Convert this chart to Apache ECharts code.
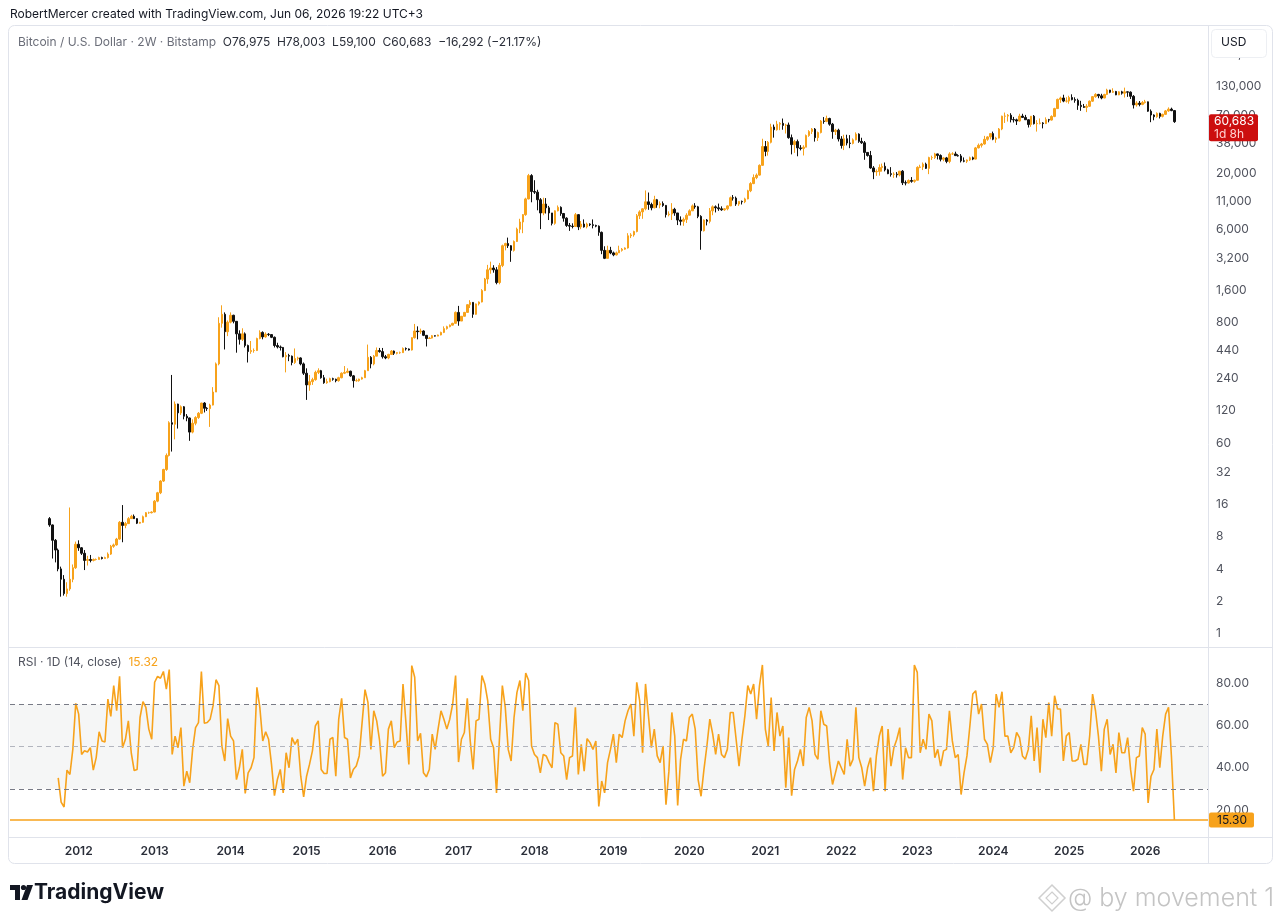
<!DOCTYPE html>
<html><head><meta charset="utf-8">
<script src="https://cdn.jsdelivr.net/npm/echarts@6/dist/echarts.min.js"></script>
<style>html,body{margin:0;padding:0;background:#fff;}#c{width:1280px;height:922px;}</style>
</head><body><div id="c"></div>
<script>
// ---------------- DATA ----------------
const firstBarDate = [2011, 7, 22];   // first 2W bar (UTC), Aug 22 2011
const firstOpen = 11.8;
const closes = [
10.3,7.4,6.0,4.0,3.2,2.35,2.6,3.2,4.1,6.8,
6.3,5.6,4.8,4.9,4.8,4.9,4.9,5.1,5.0,5.1,
5.5,6.5,6.7,7.6,10.9,10.2,10.6,11.8,12.4,11.8,
10.7,10.9,12.3,13.4,13.4,13.6,17.2,20.6,26.5,34,
46,93,90,139,115,131,107,103,76,92,
104,114,142,127,126,136,180,330,790,960,
660,810,940,825,630,560,630,490,430,440,
440,570,650,590,625,620,585,490,475,470,
385,395,390,340,370,375,330,270,210,225,
235,275,285,245,220,225,240,237,230,245,
270,275,282,255,230,230,238,245,285,380,
330,390,440,430,385,375,405,435,415,420,
420,460,455,445,580,670,660,670,610,570,
575,605,600,615,650,705,735,760,790,1000,
830,920,1000,1180,1240,960,1200,1250,1600,2050,
2500,2600,2500,1900,2750,4200,4400,4200,3800,4600,
6000,7000,8200,11500,19000,13500,13300,11300,8500,10300,
9500,8500,6800,8900,9600,8400,7600,6500,6400,6350,
8200,6300,6700,6300,6700,6600,6500,6400,5600,3800,
3200,3800,3600,3450,3600,3800,3900,4000,5200,5300,
5700,8000,8700,9300,10800,10200,9500,11300,10100,10400,
10000,8200,8300,9200,8500,7300,7100,7400,8100,8900,
9900,9700,7900,5800,7300,7100,8900,9700,9500,9300,
9100,9300,9900,11800,11700,10300,10900,10800,11500,13700,
16000,18200,19200,23700,35500,32000,38900,54000,51000,57500,
58500,56000,56500,43000,37000,39500,34500,34000,35000,45000,
49000,51700,43000,48000,61500,61000,65000,57500,49000,50500,
41800,36300,42000,38300,38000,41000,46400,39700,38500,31300,
29300,22400,20600,20800,22600,23200,21500,19800,19500,19600,
19300,20900,16300,16200,17100,16800,17200,22700,22900,24300,
22200,28000,28000,30300,29300,27000,27800,25800,30300,30300,
29200,29000,26100,25900,26600,27900,27100,34500,36500,37500,
41500,43700,46900,41600,42600,51800,68300,68400,69700,63400,
63100,61500,68400,66500,63200,57000,68200,58100,58500,59000,
58200,63300,62800,67900,80400,98000,101000,94500,94500,102000,
97500,96000,86200,84000,82500,84500,94300,104000,109000,105700,
101000,109000,119800,114200,116200,108000,115300,112000,115200,114500,
104700,87000,90400,88000,91500,93000,76000,70000,67500,72500,
68000,71000,76500,79500,76975,60683
];
const highs = [
12.2,10.4,7.6,6.2,4.2,3.5,3.0,15.0,4.4,7.2,
7.4,6.4,6.0,5.3,5.4,5.0,5.0,5.2,5.2,5.2,
5.7,6.7,6.9,7.8,11.2,15.8,11.0,12.2,12.8,12.9,
11.9,11.0,12.6,13.6,13.7,13.8,17.6,21.0,27.0,34.5,
48,96,260,147,140,135,133,112,104,100,
107,117,143,145,130,140,200,340,900,1165,
1000,840,1000,950,830,680,710,650,500,540,
460,580,680,665,650,640,625,595,520,490,
475,425,410,395,460,385,380,340,300,260,
245,285,300,290,260,240,245,245,240,250,
275,315,300,285,260,240,240,250,290,500,
390,400,470,465,465,400,410,445,440,425,
430,470,470,460,585,780,740,705,680,615,
590,615,610,620,660,740,750,770,800,1020,
1150,925,1010,1190,1300,1250,1210,1265,1650,2100,
2780,2980,2760,2650,2900,4300,4480,5000,4250,4700,
6200,7500,8300,11800,19700,19600,17200,14000,11700,11800,
11700,9900,8500,9000,9990,9800,8500,7750,6850,6800,
8500,8300,7150,7400,6900,6800,7400,6600,6500,5700,
4150,4200,4100,3700,3700,4200,4000,4050,5500,5500,
5800,8300,9000,9400,13800,13200,10600,12300,11500,10900,
10900,10100,8800,10500,9500,8500,7900,7700,8450,9200,
10200,10500,9900,8100,7400,7450,9450,10000,10000,10400,
9800,9450,10000,12100,12500,12100,11000,11100,11800,14000,
16500,19500,19900,24200,42000,40000,40000,58000,57000,61800,
60000,64900,58000,59500,46000,41000,41300,36600,36500,46000,
50500,52900,52900,49000,62900,67000,69000,66000,59000,52000,
52100,44400,45800,45800,45400,42300,48200,47200,42900,40000,
31400,32300,23300,21700,24200,24600,25200,22000,22800,20400,
20500,21000,21400,17100,17500,18400,17400,23200,24000,25200,
25100,28500,29200,31000,30500,30000,28400,28400,31400,31400,
31800,30100,30200,28100,26900,28600,28600,35200,37900,38400,
44700,44300,47200,49000,43800,52900,69000,73800,71500,72800,
67200,64700,71900,71900,70200,63800,68500,70000,62700,65000,
60000,66500,64400,69500,81800,99600,104000,108300,102700,106000,
109300,102500,99500,95000,88800,88500,95800,105000,112000,110400,
110500,110500,123200,120200,124500,117600,116800,117900,126200,116000,
116400,107500,94200,94600,94500,97000,93500,79000,71000,74000,
73500,72000,78000,82500,82000,78003
];
const lows = [
9.9,5.0,4.6,3.8,2.2,2.25,2.2,2.5,3.0,4.0,
5.9,5.4,3.9,4.3,4.6,4.7,4.8,4.9,4.9,5.0,
5.0,5.4,6.3,6.6,7.5,7.1,9.6,10.5,11.8,11.7,
10.5,10.6,10.8,12.2,13.1,13.2,13.5,16.8,20.0,26.0,
33,45,50,65,82,110,100,96,63,74,
88,101,112,116,120,85,135,180,320,720,
450,600,790,790,420,500,540,470,340,410,
420,435,560,560,580,600,575,470,460,440,
380,275,350,320,330,355,320,260,152,185,
210,230,265,240,215,215,222,230,222,225,
242,265,270,250,198,225,225,235,244,285,
300,320,390,420,370,365,365,400,400,405,
410,418,440,440,440,570,560,630,600,480,
565,570,595,598,610,640,690,725,755,785,
750,830,915,990,1100,890,950,1160,1240,1580,
1850,2300,2350,1830,1830,2650,3800,4000,2970,3700,
4550,5500,5500,8000,11400,10700,12800,9000,6000,8100,
8400,7300,6500,6600,8800,8000,7050,6300,5780,6100,
6300,5880,6000,6200,6100,6400,6100,6250,5200,3500,
3150,3200,3500,3350,3400,3600,3700,3850,3950,4950,
5100,5600,7450,7500,9000,9100,9000,9400,9500,9400,
9700,7700,7900,7300,8000,6550,6500,6450,6850,8100,
8950,9300,7600,3850,5700,6500,6800,8100,8600,8900,
8900,8900,9000,9850,11100,9900,9900,10200,10500,11400,
13300,15800,17600,19000,23500,28800,29200,38000,43000,50000,
50500,51000,47000,42000,30000,31000,28800,32700,29300,35000,
43800,46500,39500,40000,47100,58000,60000,55600,42000,45500,
39600,34000,32900,36400,34300,37200,40600,38500,37600,26700,
28600,22000,17600,18900,19000,20700,20800,19600,18600,18100,
18200,18700,15500,15400,16000,16300,16300,17100,22300,21400,
21900,19600,26600,27200,26900,25800,25900,24800,24800,29600,
29000,28600,25200,25300,24900,26000,26500,26900,34100,34800,
37000,40200,41500,40700,38500,42300,50500,59000,60800,59700,
59600,56500,60700,66000,63000,53500,54300,57100,49000,57200,
52500,57600,59800,62100,66800,80000,90800,92200,91500,89300,
96000,91200,78200,76600,81600,74500,83200,92800,101500,100400,
98200,100400,107500,111900,112600,107300,107300,108600,102000,103500,
98900,80500,83800,84400,86500,89500,75000,60000,62500,66000,
65000,66500,70000,75000,76000,59100
];
// RSI 1D(14) value at each 2W bar close (null = not yet computed)
const rsi = [
null,null,null,
35.2,23.7,21.4,38.9,36.8,48.7,70.5,65.4,46.3,48,
47.5,49.5,38.9,44.8,57,52.7,52.2,72.5,64.3,78.9,
67,83.3,49.5,53.5,62.2,47.1,38.7,39.2,63.8,71.3,
68.6,58.3,53.5,80.5,83.3,82.4,85.6,77.3,86.5,46.3,
55,49.5,59,31.3,38.4,32.9,48.7,59,61.4,85.6,
61.1,61.4,63,69.4,81.7,78.9,50.3,43.2,63.3,55,
52.7,34.4,40,48.7,27.8,37.6,40,44.8,78.1,68.6,
52.7,57,53.5,41.6,26.8,34.4,39.2,28.1,47.1,40,
54.3,51.1,53.5,36,26.2,36,41.6,48,59.8,62.2,
39.2,37.3,37.3,53.5,54.3,36,63,72.9,54.3,53.5,
35.2,39.2,40.8,45.6,61.4,77,71,48.7,67,62.2,
52.7,36,37.6,58.3,62.2,49.5,52.2,52.7,79.7,61.4,
41.6,88.4,82.9,52.7,56.3,37.6,35.7,39.2,55.9,48.7,
58.3,67,63,58.3,63,70.2,83.7,42.7,53.5,56.7,
72.9,52.7,39.2,62.2,63,83.7,79.7,71.7,53.5,49.5,
28.1,53.5,78.9,68.6,48.7,43.2,63.8,75.7,81.3,67,
84.9,81.3,50.3,46.3,44.8,37.6,46.3,45.6,42.4,40,
61.4,60.6,47.1,45.6,34.4,44.8,45.6,68.6,36.8,51.1,
38.4,53.8,51.9,48.7,52.7,21.7,33.7,28.1,42.4,48.7,
55.9,42.4,55.9,
54.3,
62.2,67,70.2,55,80.5,71.7,47.1,79.7,64.6,49.5,
58.3,45.6,42.4,50.3,22.5,38.4,66.2,55,22.1,44,
53.5,52.7,63.8,65.4,58.3,34.4,26.5,39.2,50.3,63,
55.9,46.3,55.9,46.3,44.8,48.7,66.2,66.2,53.5,40.8,
53.5,64.6,78.9,74.9,79.7,63,78.9,88.7,58.3,50.3,
73.3,48,66.2,55,59.8,30.5,54.3,26.8,39.2,43.2,
48.7,40.8,63.8,68.6,62.2,46.3,44,67,60.6,59.8,
42.4,32.1,37.6,43.2,40,36.8,53.5,40.8,44,68.6,
44.8,40,31.3,40,44.8,28.9,45.6,55,59.8,
28.9,58.3,40.8,49.5,53.5,59,34.4,49.5,44.8,44.8,
88.7,85.2,47.1,53.5,48.7,65.4,62.2,44.8,48.7,40.8,
48,48.7,67,52.7,44.8,46.3,27.3,37.6,45.6,59.8,
74.9,76.5,65.4,70.2,53.5,51.1,42.4,49.5,74.9,68.6,
76,55,55,47.1,49.5,56.7,54.3,45.6,44,48.7,
64.6,43.2,59,37.6,63,54.3,70.9,55,74.1,67.8,
67.8,43.2,55,56.7,43.2,43.2,44,51.1,41.6,41.6,
55,74.9,67,55,38.4,58.3,63,46.3,51.1,37.6,
56.7,47.1,47.1,54.3,39.2,28.9,44.8,45.6,59,55.9,
23.3,36,39.2,58.3,40,55,65.4,68.6,45,15.32
];
const priceTicks = [1,2,4,8,16,32,60,120,240,440,800,1600,3200,6000,11000,20000,38000,70000,130000,260000];
const rsiTicks = [20,40,60,80];
const rsiBands = [70,50,30];
const rsiHLine = 15.30;
const lastPrice = 60683;
const lastPriceTimer = '1d 8h';

// ---------------- BUILD ----------------
const ORANGE = '#F7A21B', BLACK = '#111111', FONT = 'Inter, "Noto Sans", sans-serif';
const CLEAR = 'rgba(0,0,0,0)';
const PAD_L = 13, PAD_R = 11, DAY = 86400000;
const t0 = Date.UTC(firstBarDate[0], firstBarDate[1], firstBarDate[2]);
const N = closes.length;
const cats = [], candle = [], rsiData = [];
for (let k = -PAD_L; k < N + PAD_R; k++) {
  cats.push(new Date(t0 + k * 14 * DAY).toISOString().slice(0, 10));
  if (k < 0 || k >= N) { candle.push('-'); rsiData.push('-'); continue; }
  const o = k === 0 ? firstOpen : closes[k - 1];
  candle.push([o, closes[k], lows[k], highs[k]]);
  rsiData.push(rsi[k] == null ? '-' : rsi[k]);
}
const yearStart = new Set();
for (let k = 1; k < cats.length; k++) if (cats[k].slice(0, 4) !== cats[k - 1].slice(0, 4)) yearStart.add(k);

const axisLabelStyle = { color: '#50535E', fontSize: 12, fontFamily: FONT };
const option = {
  animation: false,
  backgroundColor: '#ffffff',
  grid: [
    { left: 10, right: 72, top: 28, bottom: 275 },
    { left: 10, right: 72, top: 647, bottom: 85 }
  ],
  xAxis: [
    { type: 'category', gridIndex: 0, data: cats, boundaryGap: true,
      axisLine: { show: false }, axisTick: { show: false }, axisLabel: { show: false }, splitLine: { show: false } },
    { type: 'category', gridIndex: 1, data: cats, boundaryGap: true,
      axisLine: { show: false }, axisTick: { show: false }, splitLine: { show: false },
      axisLabel: { interval: (i) => yearStart.has(i), formatter: v => v.slice(0, 4), margin: 8,
        color: '#2A2E39', fontSize: 12, fontWeight: 600, fontFamily: FONT } }
  ],
  yAxis: [
    { type: 'log', logBase: 2, gridIndex: 0, position: 'right', min: 0.7445, max: 455600,
      axisLine: { show: false }, axisTick: { show: false }, axisLabel: { show: false }, splitLine: { show: false } },
    { type: 'value', gridIndex: 1, position: 'right', min: 7.2, max: 97.2,
      axisLine: { show: false }, axisTick: { show: false }, axisLabel: { show: false }, splitLine: { show: false } }
  ],
  series: [
    { type: 'candlestick', xAxisIndex: 0, yAxisIndex: 0, data: candle, barWidth: 2,
      itemStyle: { color: ORANGE, color0: BLACK, borderColor: ORANGE, borderColor0: BLACK, borderWidth: 1 },
      markLine: { silent: true, symbol: 'none', animation: false,
        lineStyle: { color: CLEAR, width: 1 },
        label: Object.assign({ show: true, position: 'end', distance: 8, formatter: p => p.value.toLocaleString('en-US') }, axisLabelStyle),
        data: priceTicks.map(v => ({ yAxis: v })) }
    },
    { type: 'line', xAxisIndex: 1, yAxisIndex: 1, data: rsiData, showSymbol: false, connectNulls: false,
      lineStyle: { color: ORANGE, width: 1.6 }, itemStyle: { color: ORANGE },
      markArea: { silent: true, itemStyle: { color: 'rgba(120,123,134,0.07)' },
        data: [[{ yAxis: 30 }, { yAxis: 70 }]] },
      markLine: { silent: true, symbol: 'none', animation: false,
        data: [].concat(
          rsiTicks.map(v => ({ yAxis: v, lineStyle: { color: CLEAR, width: 1 },
            label: Object.assign({ show: true, position: 'end', distance: 8, formatter: v.toFixed(2) }, axisLabelStyle) })),
          rsiBands.map(v => ({ yAxis: v, label: { show: false },
            lineStyle: { type: [5, 4], width: 1, color: v === 50 ? '#B2B5BE' : '#787B86' } })),
          [{ yAxis: rsiHLine, lineStyle: { type: 'solid', width: 1.6, color: ORANGE },
            label: { show: true, position: 'end', distance: 1, formatter: rsiHLine.toFixed(2),
              backgroundColor: ORANGE, color: '#131722', fontSize: 12, fontFamily: FONT,
              padding: [2, 7, 1, 8], lineHeight: 12, borderRadius: 2 } }]
        ) }
    }
  ]
};
const chart = echarts.init(document.getElementById('c'));
chart.setOption(option);

const yPx = chart.convertToPixel({ yAxisIndex: 0 }, lastPrice);
const BORDER = '#E0E3EB';
const graphics = [
  { type: 'rect', shape: { x: 8.5, y: 25.5, width: 1264, height: 838, r: 6 }, style: { fill: 'none', stroke: BORDER, lineWidth: 1 }, z: 50 },
  { type: 'line', shape: { x1: 1208.5, y1: 26, x2: 1208.5, y2: 863 }, style: { stroke: BORDER, lineWidth: 1 }, z: 50 },
  { type: 'line', shape: { x1: 9, y1: 647.5, x2: 1272, y2: 647.5 }, style: { stroke: BORDER, lineWidth: 1 }, z: 50 },
  { type: 'line', shape: { x1: 9, y1: 837.5, x2: 1272, y2: 837.5 }, style: { stroke: BORDER, lineWidth: 1 }, z: 50 },
  { type: 'text', x: 10, y: 14, style: { text: 'RobertMercer created with TradingView.com, Jun 06, 2026 19:22 UTC+3',
      fill: '#131722', font: '12px ' + FONT, verticalAlign: 'middle', textVerticalAlign: 'middle' }, z: 60 },
  { type: 'text', x: 18, y: 42, style: { rich: { a: { fill: '#6A6D78', font: '12px ' + FONT }, b: { fill: '#2A2E39', font: '12px ' + FONT } },
      text: '{a|Bitcoin / U.S. Dollar · 2W · Bitstamp}  {b|O76,975  H78,003  L59,100  C60,683  −16,292 (−21.17%)}',
      verticalAlign: 'middle', textVerticalAlign: 'middle' }, z: 60 },
  { type: 'text', x: 18, y: 662, style: { rich: { a: { fill: '#50535E', font: '12px ' + FONT }, b: { fill: ORANGE, font: '12px ' + FONT } },
      text: '{a|RSI · 1D (14, close)}  {b|15.32}', verticalAlign: 'middle', textVerticalAlign: 'middle' }, z: 60 },
  { type: 'rect', shape: { x: 1211.5, y: 29.5, width: 55, height: 28, r: 4 }, style: { fill: '#fff', stroke: '#EDEFF3', lineWidth: 1 }, z: 70 },
  { type: 'text', x: 1221, y: 42.5, style: { text: 'USD', fill: '#131722', font: '12px ' + FONT, verticalAlign: 'middle', textVerticalAlign: 'middle' }, z: 71 },
  { type: 'rect', shape: { x: 1209, y: yPx - 7.5, width: 49, height: 27, r: 2 }, style: { fill: '#CC0E0E' }, z: 80 },
  { type: 'text', x: 1214, y: yPx, style: { text: lastPrice.toLocaleString('en-US'), fill: '#ffffff', font: '12px ' + FONT, verticalAlign: 'middle', textVerticalAlign: 'middle' }, z: 81 },
  { type: 'text', x: 1214, y: yPx + 13, style: { text: lastPriceTimer, fill: '#FFD2D2', font: '12px ' + FONT, verticalAlign: 'middle', textVerticalAlign: 'middle' }, z: 81 },
  // TradingView logo
  { type: 'rect', shape: { x: 10, y: 885, width: 10, height: 5 }, style: { fill: '#131722' }, z: 60 },
  { type: 'rect', shape: { x: 15, y: 885, width: 5, height: 15 }, style: { fill: '#131722' }, z: 60 },
  { type: 'circle', shape: { cx: 23.5, cy: 887.5, r: 2.6 }, style: { fill: '#131722' }, z: 60 },
  { type: 'polygon', shape: { points: [[27, 885], [33, 885], [27.5, 900], [21.5, 900]] }, style: { fill: '#131722' }, z: 60 },
  { type: 'text', x: 34, y: 893, style: { text: 'TradingView', fill: '#131722', font: 'bold 21px ' + FONT, verticalAlign: 'middle', textVerticalAlign: 'middle' }, z: 60 },
  // watermark
  { type: 'polygon', shape: { points: [[1052, 885], [1065, 898], [1052, 911], [1039, 898]] }, style: { fill: 'none', stroke: '#CFCFCF', lineWidth: 1.5 }, z: 60 },
  { type: 'polygon', shape: { points: [[1052, 892], [1058, 898], [1052, 904], [1046, 898]] }, style: { fill: 'none', stroke: '#CFCFCF', lineWidth: 1.2 }, z: 60 },
  { type: 'text', x: 1068, y: 898, style: { text: '@ by movement 1', fill: '#C4C4C4', font: '300 25px ' + FONT, verticalAlign: 'middle', textVerticalAlign: 'middle' }, z: 60 }
];
chart.setOption({ graphic: graphics });
</script>
</body></html>
